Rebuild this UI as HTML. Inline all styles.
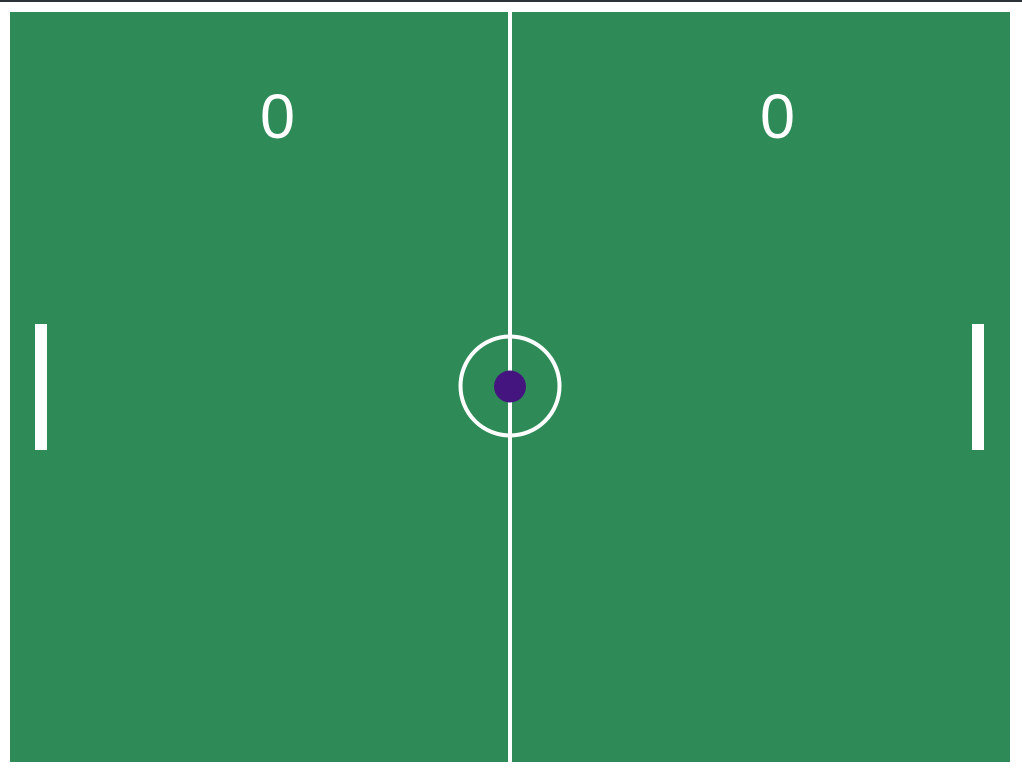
<!DOCTYPE html>
<html><head><meta charset="utf-8"><style>
html,body{margin:0;padding:0;background:#fff;width:1022px;height:772px;overflow:hidden}
</style></head><body>
<svg width="1022" height="772" xmlns="http://www.w3.org/2000/svg">
<rect x="0" y="0" width="1022" height="2" fill="#2b3238"/>
<rect x="10" y="12" width="1000" height="750" fill="#2e8b57"/>
<rect x="508" y="12" width="4" height="750" fill="#fff"/>
<circle cx="510" cy="386" r="49.5" fill="none" stroke="#fff" stroke-width="4"/>
<circle cx="510" cy="386.5" r="16" fill="#44157f"/>
<rect x="35" y="324" width="12" height="126" fill="#fff"/>
<rect x="972" y="324" width="12" height="126" fill="#fff"/>
<text x="277.5" y="138" text-anchor="middle" font-family="Liberation Sans, sans-serif" font-size="63" fill="#fff">0</text>
<text x="777.5" y="138" text-anchor="middle" font-family="Liberation Sans, sans-serif" font-size="63" fill="#fff">0</text>
</svg>
</body></html>
